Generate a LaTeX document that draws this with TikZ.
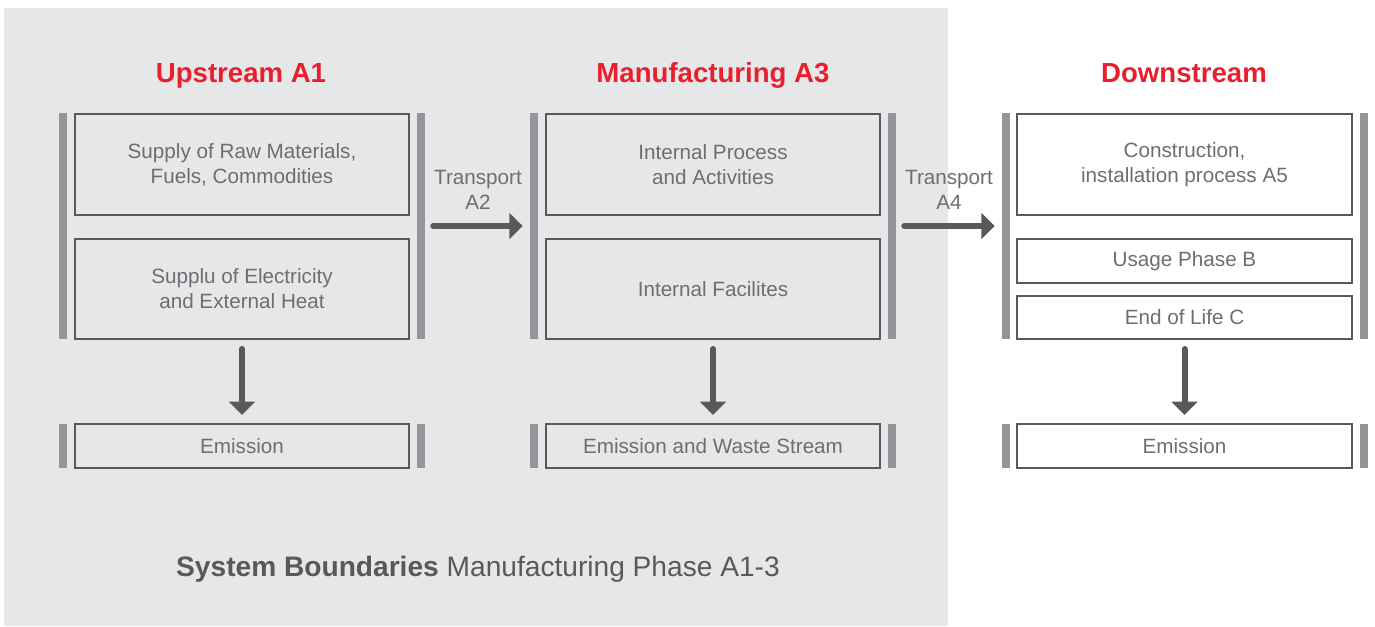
\documentclass[tikz,border=0pt]{standalone}
\usepackage{fontspec}
\setmainfont{Liberation Sans}
\usetikzlibrary{arrows.meta,fit}
\definecolor{panel}{HTML}{E6E7E8}
\definecolor{frame}{HTML}{58595B}
\definecolor{barc}{HTML}{939598}
\definecolor{txt}{HTML}{6D6E71}
\definecolor{head}{HTML}{E8202E}
\begin{document}
\begin{tikzpicture}[x=0.75pt,y=-0.75pt,
  box/.style={draw=frame, line width=1.5pt, inner sep=0pt},
  barbox/.style={fill=barc, draw=none, inner sep=0pt},
  heading/.style={text=head, anchor=base, font=\fontsize{20.7}{24}\selectfont\bfseries},
  lbl/.style={text=txt, align=center, inner sep=0pt, font=\fontsize{15.5}{18.8}\selectfont},
  flow/.style={draw=frame, line width=4.5pt, line cap=round,
    -{Triangle[length=10pt,width=19pt]}},
  flowdown/.style={flow, shorten <=6.75pt, shorten >=6pt},
  flowright/.style={flow, shorten <=6pt, shorten >=5.25pt}]
\useasboundingbox (0,0) rectangle (1375,626);

% system boundary panel
\fill[panel] (4,8) rectangle (948,626);

% headings
\node[heading] (h1) at (241,82) {Upstream A1};
\node[heading] (h2) at (713,82) {Manufacturing A3};
\node[heading] (h3) at (1184,82) {Downstream};

% column 1: upstream
\node[barbox, fit={(59,113)(67,339)}] (b1L) {};
\node[barbox, fit={(417,113)(425,339)}] (b1R) {};
\node[box, fit={(75,114)(409,215)}] (u1) {};
\node[box, fit={(75,239)(409,339)}] (u2) {};
\node[barbox, fit={(59,424)(67,468)}] (e1L) {};
\node[barbox, fit={(417,424)(425,468)}] (e1R) {};
\node[box, fit={(75,424)(409,468)}] (ue) {};
\node[lbl] (u1t) at (u1.center) {Supply of Raw Materials,\\Fuels, Commodities};
\node[lbl] (u2t) at (u2.center) {Supplu of Electricity\\and External Heat};
\node[lbl] (uet) at (ue.center) {Emission};

% column 2: manufacturing
\node[barbox, fit={(530,113)(538,339)}] (b2L) {};
\node[barbox, fit={(888,113)(896,339)}] (b2R) {};
\node[box, fit={(546,114)(880,215)}] (m1) {};
\node[box, fit={(546,239)(880,339)}] (m2) {};
\node[barbox, fit={(530,424)(538,468)}] (e2L) {};
\node[barbox, fit={(888,424)(896,468)}] (e2R) {};
\node[box, fit={(546,424)(880,468)}] (me) {};
\node[lbl] (m1t) at (m1.center) {Internal Process\\and Activities};
\node[lbl] (m2t) at (m2.center) {Internal Facilites};
\node[lbl] (met) at (me.center) {Emission and Waste Stream};

% column 3: downstream
\node[barbox, fit={(1002,113)(1010,339)}] (b3L) {};
\node[barbox, fit={(1360,113)(1368,339)}] (b3R) {};
\node[box, fit={(1017,114)(1352,215)}] (d1) {};
\node[box, fit={(1017,239)(1352,283)}] (d2) {};
\node[box, fit={(1017,296)(1352,339)}] (d3) {};
\node[barbox, fit={(1002,424)(1010,468)}] (e3L) {};
\node[barbox, fit={(1360,424)(1368,468)}] (e3R) {};
\node[box, fit={(1017,424)(1352,468)}] (de) {};
\node[lbl] (d1t) at (d1.center) {Construction,\\installation process A5};
\node[lbl] (d2t) at (d2.center) {Usage Phase B};
\node[lbl] (d3t) at (d3.center) {End of Life C};
\node[lbl] (det) at (de.center) {Emission};

% transport steps
\node[lbl] (t2) at (478,190) {Transport\\A2};
\node[lbl] (t4) at (949,190) {Transport\\A4};
\draw[flowright] (b1R) -- (b2L);
\draw[flowright] (b2R) -- (b3L);

% emission flows
\draw[flowdown] (u2) -- (ue);
\draw[flowdown] (m2) -- (me);
\draw[flowdown] (d3) -- (de);

% caption
\node[text=frame, anchor=base, font=\fontsize{21.1}{24}\selectfont] (cap) at (478,576)
  {\textbf{System Boundaries} Manufacturing Phase A1-3};
\end{tikzpicture}
\end{document}
